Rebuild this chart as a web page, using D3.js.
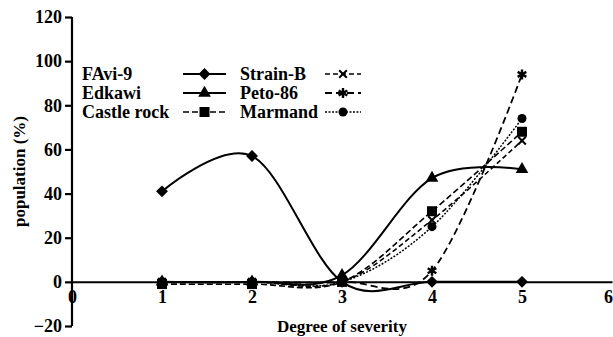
<!DOCTYPE html>
<html>
<head>
<meta charset="UTF-8">
<title>Degree of severity</title>
<script src="https://d3js.org/d3.v7.min.js"></script>
<style>
  body { margin: 0; background: #fff; }
</style>
</head>
<body>
<div id="chart"></div>
<script>
const degrees = [1, 2, 3, 4, 5];
const seriesNames = ["FAvi-9", "Edkawi", "Castle rock", "Strain-B", "Peto-86", "Marmand"];
const favi9 = [41, 57, 0, 0, 0];
const edkawi = [0, 0, 3, 47, 51];
const castleRock = [-1, -1, 0, 32, 68];
const strainB = [0, 0, 0, 28, 64];
const peto86 = [0, 0, 0, 5, 94];
const marmand = [0, 0, 0, 25, 74];
const xTicks = [0, 1, 2, 3, 4, 5, 6];
const yTicks = [-20, 0, 20, 40, 60, 80, 100, 120];

const width = 613, height = 337;
const svg = d3.select("#chart").append("svg").attr("width", width).attr("height", height);

const x = d3.scaleLinear().domain([0, 6]).range([72, 612]);
const y = d3.scaleLinear().domain([-20, 120]).range([326, 17]);

// series styles
const styles = [
    { values: favi9, marker: "diamond", dash: null, width: 2 },
    { values: edkawi, marker: "triangle", dash: null, width: 2 },
    { values: castleRock, marker: "square", dash: "6,3", width: 1.6 },
    { values: strainB, marker: "cross", dash: "5,3", width: 1.6 },
    { values: peto86, marker: "asterisk", dash: "7,4", width: 1.8 },
    { values: marmand, marker: "circle", dash: "2,1.5", width: 1.5 }
];

function drawMarker(g, type, cx, cy) {
    if (type === "diamond") {
        g.append("path").attr("d", d3.symbol(d3.symbolDiamond2, 90)()).attr("transform", `translate(${cx},${cy})`).attr("fill", "#000");
    } else if (type === "triangle") {
        g.append("path").attr("d", d3.symbol(d3.symbolTriangle, 70)()).attr("transform", `translate(${cx},${cy})`).attr("fill", "#000");
    } else if (type === "square") {
        g.append("rect").attr("x", cx - 5).attr("y", cy - 5).attr("width", 10).attr("height", 10).attr("fill", "#000");
    } else if (type === "circle") {
        g.append("circle").attr("cx", cx).attr("cy", cy).attr("r", 4.5).attr("fill", "#000");
    } else if (type === "cross") {
        g.append("path").attr("d", d3.symbol(d3.symbolX, 40)()).attr("transform", `translate(${cx},${cy})`)
            .attr("fill", "none").attr("stroke", "#000").attr("stroke-width", 2);
    } else if (type === "asterisk") {
        g.append("path").attr("d", d3.symbol(d3.symbolAsterisk, 70)()).attr("transform", `translate(${cx},${cy})`)
            .attr("fill", "none").attr("stroke", "#000").attr("stroke-width", 2.4);
    }
}

// serif bold text
function txt(sel, size) {
    return sel.attr("font-family", "Liberation Serif").attr("font-weight", "bold").attr("font-size", size).attr("fill", "#000");
}

// axes
const yAxis = d3.axisLeft(y).tickValues(yTicks).tickFormat(d3.format("d")).tickSize(7).tickPadding(3);
const gy = svg.append("g").attr("transform", `translate(${x(0)},0)`).call(yAxis);
gy.attr("font-family", "Liberation Serif");
gy.select(".domain").attr("stroke-width", 2.2).attr("d", `M0,${y(-20)}V${y(120)}`);
gy.selectAll(".tick line").attr("stroke-width", 2.2);
txt(gy.selectAll(".tick text"), 18);

const xAxis = d3.axisBottom(x).tickValues(xTicks).tickFormat(d3.format("d")).tickSize(0).tickPadding(8);
const gx = svg.append("g").attr("transform", `translate(0,${y(0)})`).call(xAxis);
gx.attr("font-family", "Liberation Serif");
gx.select(".domain").attr("stroke-width", 2);
txt(gx.selectAll(".tick text"), 18);
gx.selectAll(".tick text").filter(d => d === 6).attr("dx", -4);

txt(svg.append("text").attr("x", x(3)).attr("y", 332).attr("text-anchor", "middle"), 17).text("Degree of severity");
txt(svg.append("text").attr("transform", `translate(25,${y(50)}) rotate(-90)`).attr("text-anchor", "middle"), 17)
    .text("population (%)");

// lines
const line = d3.line().x((d, i) => x(degrees[i])).y(d => y(d)).curve(d3.curveCardinal.tension(0));
const plot = svg.append("g");
styles.forEach(s => {
    plot.append("path").attr("d", line(s.values)).attr("fill", "none").attr("stroke", "#000")
        .attr("stroke-width", s.width).attr("stroke-dasharray", s.dash);
    s.values.forEach((v, i) => drawMarker(plot, s.marker, x(degrees[i]), y(v)));
});

// legend
const legend = svg.append("g");
seriesNames.forEach((name, i) => {
    const col = Math.floor(i / 3), row = i % 3;
    const ty = 74 + row * 19;
    const tx = col === 0 ? 82 : 240;
    const lx0 = col === 0 ? 183 : 325, lx1 = col === 0 ? 226 : 361;
    txt(legend.append("text").attr("x", tx).attr("y", ty).attr("dy", "0.35em"), 18).text(name);
    legend.append("line").attr("x1", lx0).attr("x2", lx1).attr("y1", ty).attr("y2", ty)
        .attr("stroke", "#000").attr("stroke-width", styles[i].width).attr("stroke-dasharray", styles[i].dash);
    drawMarker(legend, styles[i].marker, (lx0 + lx1) / 2, ty);
});
</script>
</body>
</html>
